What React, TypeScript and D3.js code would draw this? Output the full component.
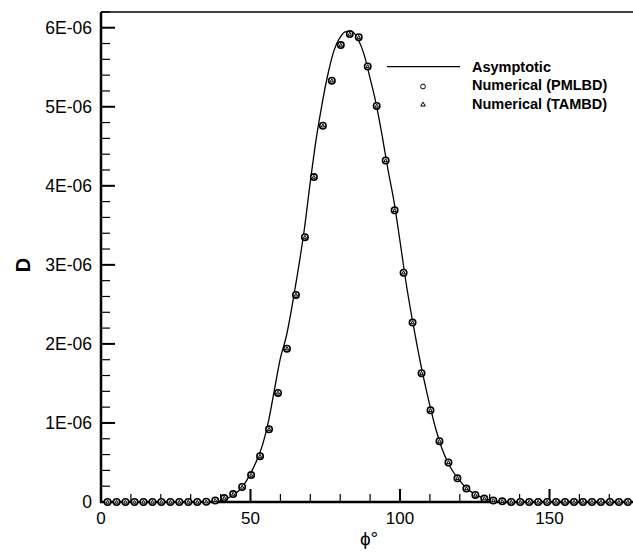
import React from "react";
import * as d3 from "d3";

// Asymptotic curve (phi in degrees, D in units of 1E-06)
const curvePhi = [0, 34, 36, 38, 40, 42, 44, 46, 48, 50, 52, 54, 56, 58, 60, 62, 64, 66, 68, 70, 72, 74, 76, 78, 80, 82, 84, 86, 88, 90, 92, 94, 96, 98, 100, 102, 104, 106, 108, 110, 112, 114, 116, 118, 120, 122, 124, 126, 128, 130, 132, 134, 180];
const curveD = [0, 0, 0.001, 0.005, 0.015, 0.04, 0.085, 0.14, 0.23, 0.36, 0.52, 0.72, 1.02, 1.42, 1.82, 2.1, 2.5, 2.95, 3.45, 4.05, 4.6, 5.05, 5.43, 5.72, 5.88, 5.95, 5.95, 5.85, 5.66, 5.36, 5.04, 4.64, 4.2, 3.8, 3.3, 2.78, 2.33, 1.92, 1.55, 1.22, 0.92, 0.68, 0.5, 0.37, 0.27, 0.18, 0.125, 0.08, 0.048, 0.025, 0.01, 0.003, 0];

// Numerical points
const pointPhi = [2.2, 5.2, 8.2, 11.2, 14.2, 17.2, 20.2, 23.2, 26.2, 29.2, 32.2, 35.2, 38.2, 41.2, 44.2, 47.2, 50.2, 53.2, 56.2, 59.2, 62.2, 65.2, 68.2, 71.2, 74.2, 77.2, 80.2, 83.2, 86.2, 89.2, 92.2, 95.2, 98.2, 101.2, 104.2, 107.2, 110.2, 113.2, 116.2, 119.2, 122.2, 125.2, 128.2, 131.2, 134.2, 137.2, 140.2, 143.2, 146.2, 149.2, 152.2, 155.2, 158.2, 161.2, 164.2, 167.2, 170.2, 173.2, 176.2];
const pmlbdD = [0, 0, 0, 0, 0, 0, 0, 0, 0, 0, 0, 0.003, 0.02, 0.05, 0.1, 0.19, 0.34, 0.58, 0.92, 1.38, 1.94, 2.62, 3.35, 4.11, 4.76, 5.33, 5.78, 5.92, 5.88, 5.51, 5.01, 4.32, 3.69, 2.9, 2.27, 1.63, 1.16, 0.77, 0.5, 0.3, 0.17, 0.089, 0.043, 0.02, 0.008, 0, 0, 0, 0, 0, 0, 0, 0, 0, 0, 0, 0, 0, 0];
const tambdD = [0, 0, 0, 0, 0, 0, 0, 0, 0, 0, 0, 0.003, 0.02, 0.05, 0.1, 0.19, 0.34, 0.58, 0.92, 1.38, 1.94, 2.62, 3.35, 4.11, 4.76, 5.33, 5.78, 5.92, 5.88, 5.51, 5.01, 4.32, 3.69, 2.9, 2.27, 1.63, 1.16, 0.77, 0.5, 0.3, 0.17, 0.089, 0.043, 0.02, 0.008, 0, 0, 0, 0, 0, 0, 0, 0, 0, 0, 0, 0, 0, 0];

const xMajor = [0, 50, 100, 150];
const yMajorLabels = ["0", "1E-06", "2E-06", "3E-06", "4E-06", "5E-06", "6E-06"];
const legendLabels = ["Asymptotic", "Numerical (PMLBD)", "Numerical (TAMBD)"];

const W = 633;
const H = 554;
const FONT = "'Liberation Sans', Arial, Helvetica, sans-serif";

export default function App() {
  const x = d3.scaleLinear().domain([0, 180]).range([101, 639.2]);
  const y = d3.scaleLinear().domain([0, 6.2]).range([502, 11.9]);

  const line = d3
    .line<number>()
    .x((_, i) => x(curvePhi[i]))
    .y((d) => y(d))
    .curve(d3.curveMonotoneX);

  const xMinor = d3.range(0, 181, 10).filter((v) => v % 50 !== 0);
  const yMinor = d3.range(0, 6.2001, 0.2).filter((v) => Math.abs(v - Math.round(v)) > 1e-6);

  const tri = (cx: number, cy: number, s: number) =>
    `M${cx},${cy - s}L${cx + s * 0.95},${cy + s * 0.65}L${cx - s * 0.95},${cy + s * 0.65}Z`;

  const x0 = x(0);
  const y0 = y(0);

  return (
    <svg
      width={W}
      height={H}
      style={{ position: "absolute", left: 0, top: 0, background: "#fff" }}
      fontFamily={FONT}
    >
      <rect x={0} y={0} width={W} height={H} fill="#fff" />
      {/* frame */}
      <line x1={x0} x2={x(180)} y1={y(6.2)} y2={y(6.2)} stroke="#000" strokeWidth={1.5} />
      <line x1={x(180)} x2={x(180)} y1={y(6.2)} y2={y0} stroke="#000" strokeWidth={1.5} />

      {/* x ticks */}
      {xMinor.map((v) => (
        <line key={"xm" + v} x1={x(v)} x2={x(v)} y1={y0} y2={y0 - 8} stroke="#000" strokeWidth={1.2} />
      ))}
      {xMajor.map((v) => (
        <g key={"xM" + v}>
          <line x1={x(v)} x2={x(v)} y1={y0} y2={y0 - 13} stroke="#000" strokeWidth={2} />
          <text x={x(v)} y={523.5} textAnchor="middle" fontSize={17}>
            {v}
          </text>
        </g>
      ))}

      {/* y ticks */}
      {yMinor.map((v) => (
        <line key={"ym" + v} x1={x0} x2={x0 + 9} y1={y(v)} y2={y(v)} stroke="#000" strokeWidth={1.2} />
      ))}
      {yMajorLabels.map((lab, i) => (
        <g key={"yM" + i}>
          <line x1={x0} x2={x0 + 14} y1={y(i)} y2={y(i)} stroke="#000" strokeWidth={2} />
          <text x={92} y={y(i) + 6} textAnchor="end" fontSize={17.5}>
            {lab}
          </text>
        </g>
      ))}

      {/* axes lines */}
      <line x1={x0} x2={x0} y1={y(6.2)} y2={y0 + 1} stroke="#000" strokeWidth={2.5} />
      <line x1={x0 - 1} x2={x(180)} y1={y0} y2={y0} stroke="#000" strokeWidth={2.5} />

      {/* curve */}
      <path d={line(curveD) || ""} fill="none" stroke="#000" strokeWidth={1.3} />

      {/* points */}
      {pointPhi.map((p, i) => (
        <circle key={"c" + i} cx={x(p)} cy={y(pmlbdD[i])} r={3.2} fill="#fff" stroke="#000" strokeWidth={1.6} />
      ))}
      {pointPhi.map((p, i) => (
        <path key={"t" + i} d={tri(x(p), y(tambdD[i]), 1.8)} fill="none" stroke="#000" strokeWidth={1} />
      ))}

      {/* legend */}
      <line x1={387} x2={460} y1={66.7} y2={66.7} stroke="#000" strokeWidth={1.3} />
      <circle cx={423} cy={86.5} r={2.4} fill="#fff" stroke="#000" strokeWidth={1} />
      <path d={tri(423, 104.5, 2.4)} fill="none" stroke="#000" strokeWidth={1} />
      {legendLabels.map((lab, i) => (
        <text key={lab} x={472} y={71.5 + i * 18.8} fontSize={14.5} fontWeight="bold">
          {lab}
        </text>
      ))}

      {/* axis titles */}
      <text x={369} y={545} textAnchor="middle" fontSize={19}>
        ϕ°
      </text>
      <text
        transform={`translate(30,${265}) rotate(-90)`}
        textAnchor="middle"
        fontSize={20}
        fontWeight="bold"
      >
        D
      </text>
    </svg>
  );
}
